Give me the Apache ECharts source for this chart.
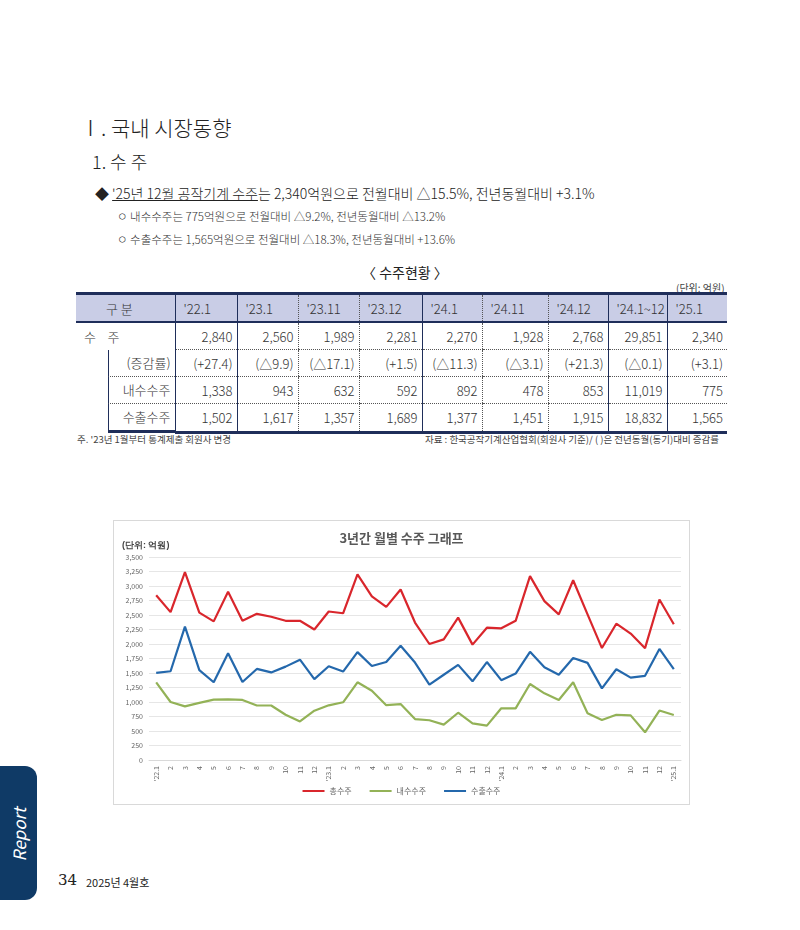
<!DOCTYPE html>
<html>
<head>
<meta charset="utf-8">
<script src="https://cdn.jsdelivr.net/npm/echarts@6/dist/echarts.min.js"></script>
<style>
  body { margin: 0; width: 800px; height: 930px; background: #fff; position: relative; font-family: "Noto Sans CJK KR", "Noto Sans", sans-serif; color: #222; overflow: hidden; }
  .abs { position: absolute; white-space: nowrap; }
  table { position: absolute; left: 76px; top: 292px; width: 651px; border-collapse: collapse; table-layout: fixed; font-size: 13px; color: #333; font-weight: 300; }
  td { height: 26px; padding: 0 4px; border-left: 1px dotted #555; white-space: nowrap; }
  tr.head td { background: #c9cde6; border-top: 3px solid #1f2e5a; border-bottom: 2px solid #1f2e5a; text-align: left; padding-left: 8px; }
  tr.body td { text-align: right; border-bottom: 1px dotted #555; }
  tr.last td { border-bottom: 3px solid #1f2e5a; }
  td.solid { border-left: 1.5px solid #1f2e5a; }
  #chart { position: absolute; left: 113px; top: 520px; width: 575px; height: 283px; border: 1px solid #d9d9d9; }
</style>
</head>
<body>
<div class="abs" style="left:80px;top:112px;font-size:21px;font-weight:300;">Ⅰ. 국내 시장동향</div>
<div class="abs" style="left:92px;top:148px;font-size:18px;font-weight:300;">1. 수 주</div>
<div class="abs" style="left:95px;top:183px;font-size:14px;font-weight:300;">◆ <u>'25년 12월 공작기계 수주</u>는 2,340억원으로 전월대비 △15.5%, 전년동월대비 +3.1%</div>
<div class="abs" style="left:117px;top:208px;font-size:11.5px;color:#333;font-weight:300;">ㅇ 내수수주는 775억원으로 전월대비 △9.2%, 전년동월대비 △13.2%</div>
<div class="abs" style="left:117px;top:231px;font-size:11.5px;color:#333;font-weight:300;">ㅇ 수출수주는 1,565억원으로 전월대비 △18.3%, 전년동월대비 +13.6%</div>
<div class="abs" style="left:362px;top:262px;font-size:14px;">〈 수주현황 〉</div>
<div class="abs" style="left:676px;top:280px;font-size:10px;color:#444;">(단위: 억원)</div>
<table id="tbl"></table>
<div class="abs" style="left:77px;top:432px;font-size:9.5px;color:#444;">주. '23년 1월부터 통계제출 회원사 변경</div>
<div class="abs" style="left:425px;top:432px;font-size:9.5px;color:#444;">자료 : 한국공작기계산업협회(회원사 기준)/ ( )은 전년동월(동기)대비 증감률</div>
<div id="chart"></div>
<div class="abs" style="left:0;top:766px;width:37px;height:134px;background:#0f3a66;border-radius:0 12px 12px 0;"></div>
<div class="abs" style="left:-8px;top:822px;transform:rotate(-90deg);color:#fff;font-size:17px;font-style:italic;">Report</div>
<div class="abs" style="left:58px;top:871px;font-size:15px;font-family:'DejaVu Serif',serif;">34</div>
<div class="abs" style="left:86px;top:874px;font-size:11px;">2025년 4월호</div>
<script>
// table data
var tblHeads = ["'22.1", "'23.1", "'23.11", "'23.12", "'24.1", "'24.11", "'24.12", "'24.1~12", "'25.1"];
var tblTotal = ['2,840', '2,560', '1,989', '2,281', '2,270', '1,928', '2,768', '29,851', '2,340'];
var tblRate = ['(+27.4)', '(△9.9)', '(△17.1)', '(+1.5)', '(△11.3)', '(△3.1)', '(+21.3)', '(△0.1)', '(+3.1)'];
var tblDomestic = ['1,338', '943', '632', '592', '892', '478', '853', '11,019', '775'];
var tblExport = ['1,502', '1,617', '1,357', '1,689', '1,377', '1,451', '1,915', '18,832', '1,565'];

// chart data (억원)
var months = ["'22.1",'2','3','4','5','6','7','8','9','10','11','12',
              "'23.1",'2','3','4','5','6','7','8','9','10','11','12',
              "'24.1",'2','3','4','5','6','7','8','9','10','11','12',"'25.1"];
var totalOrders = [2840,2550,3240,2540,2390,2900,2400,2520,2470,2400,2400,2250,
                   2560,2530,3200,2820,2640,2940,2370,2000,2080,2455,1989,2281,
                   2270,2400,3170,2740,2510,3100,2510,1930,2350,2180,1928,2768,2340];
var domesticOrders = [1338,1000,925,985,1040,1045,1035,940,940,780,665,850,
                      943,995,1340,1195,945,965,705,685,610,815,632,592,
                      892,890,1310,1150,1035,1340,805,690,780,770,478,853,775];
var exportOrders = [1502,1530,2300,1550,1340,1840,1345,1570,1510,1610,1730,1395,
                    1617,1525,1860,1620,1690,1970,1680,1300,1470,1640,1357,1689,
                    1377,1490,1865,1600,1470,1760,1675,1235,1565,1420,1451,1915,1565];

// build the table
var solidCols = [1, 2, 5, 8, 9];
var widths = [99, 62, 61, 61, 63, 60, 66, 60, 59, 60];
var html = '<colgroup>' + widths.map(function (w) { return '<col style="width:' + w + 'px">'; }).join('') + '</colgroup>';
function row(first, cells, cls, firstStyle) {
    var h = '<tr class="' + cls + '"><td style="border-left:none;' + (firstStyle || '') + '">' + first + '</td>';
    cells.forEach(function (c, i) {
        h += '<td class="' + (solidCols.indexOf(i + 1) >= 0 ? 'solid' : '') + '">' + c + '</td>';
    });
    return h + '</tr>';
}
function sub(text, last) {
    return '<div style="margin-left:32px;border-left:1.5px solid #1f2e5a;height:26px;line-height:26px;text-align:right;padding-right:4px;border-bottom:' +
        (last ? '3px solid #1f2e5a' : '1px dotted #555') + '">' + text + '</div>';
}
html += row('<span style="padding-left:22px">구 분</span>', tblHeads, 'head');
html += row('<span style="padding-left:4px">수 &nbsp;&nbsp;&nbsp;주</span>', tblTotal, 'body', 'text-align:left;border-bottom:none;');
html += row(sub('(증감률)'), tblRate, 'body', 'padding:0;border-bottom:none;');
html += row(sub('내수수주'), tblDomestic, 'body', 'padding:0;border-bottom:none;');
html += row(sub('수출수주', true), tblExport, 'body last', 'padding:0;border-bottom:none;');
document.getElementById('tbl').innerHTML = html;

var chart = echarts.init(document.getElementById('chart'));
var option = {
    textStyle: { fontFamily: 'Noto Sans CJK KR' },
    title: {
        text: '3년간 월별 수주 그래프',
        left: 'center',
        top: 6,
        textStyle: { fontSize: 13, fontWeight: 'bold', color: '#595959' }
    },
    graphic: [{
        type: 'text', left: 8, top: 20,
        style: { text: '(단위: 억원)', fontSize: 9, fontWeight: 'bold', fill: '#444' }
    }],
    legend: {
        bottom: 4,
        left: 'center',
        itemWidth: 22,
        itemHeight: 2,
        itemGap: 18,
        icon: 'rect',
        textStyle: { fontSize: 8, color: '#666' },
        data: ['총수주', '내수수주', '수출수주']
    },
    grid: { left: 35, right: 8, top: 36, bottom: 44 },
    xAxis: {
        type: 'category',
        data: months,
        boundaryGap: true,
        axisLine: { lineStyle: { color: '#d9d9d9' } },
        axisTick: { show: false },
        axisLabel: { rotate: 90, fontSize: 7, color: '#666', interval: 0, margin: 6 }
    },
    yAxis: {
        type: 'value',
        min: 0,
        max: 3500,
        interval: 250,
        axisLine: { show: false },
        axisTick: { show: false },
        splitLine: { lineStyle: { color: '#e6e6e6' } },
        axisLabel: {
            fontSize: 7, color: '#666', margin: 6,
            formatter: function (v) { return v.toLocaleString('en-US'); }
        }
    },
    series: [{
        name: '총수주', type: 'line', data: totalOrders, symbol: 'none',
        lineStyle: { width: 2.2, color: '#d9262c' }, itemStyle: { color: '#d9262c' }
    }, {
        name: '내수수주', type: 'line', data: domesticOrders, symbol: 'none',
        lineStyle: { width: 2.2, color: '#93b257' }, itemStyle: { color: '#93b257' }
    }, {
        name: '수출수주', type: 'line', data: exportOrders, symbol: 'none',
        lineStyle: { width: 2.2, color: '#2468ac' }, itemStyle: { color: '#2468ac' }
    }]
};
chart.setOption(option);
</script>
</body>
</html>
